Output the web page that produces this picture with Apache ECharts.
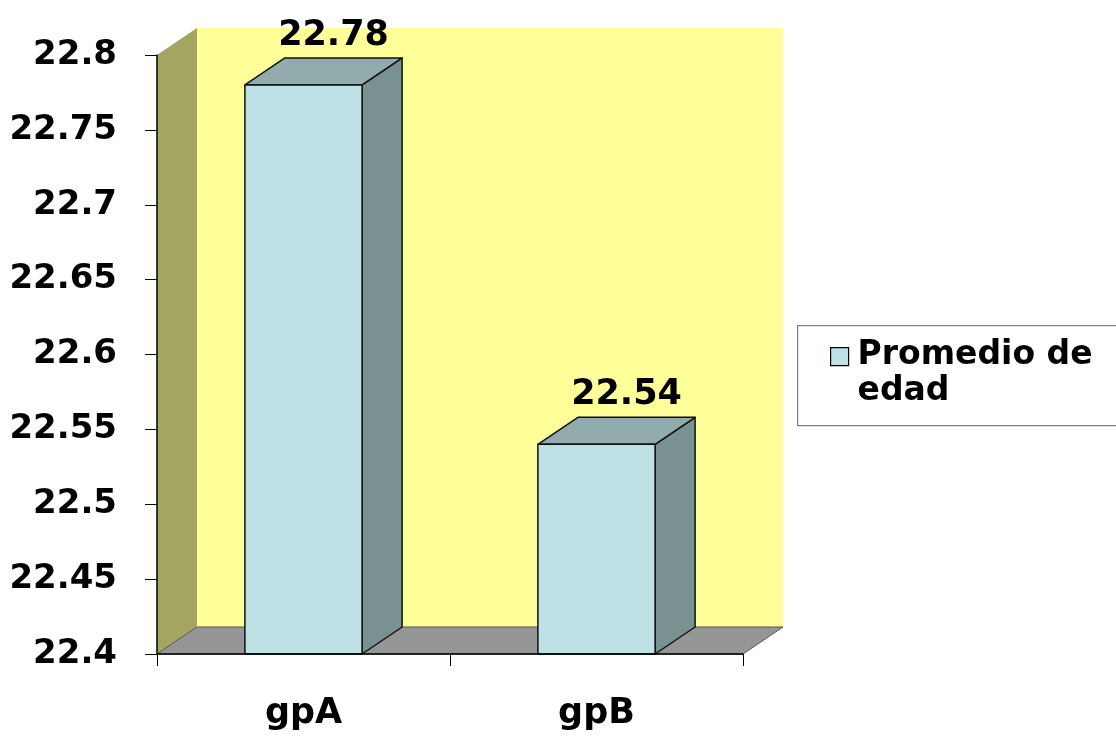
<!DOCTYPE html>
<html>
<head>
<meta charset="utf-8">
<script src="https://cdn.jsdelivr.net/npm/echarts@6/dist/echarts.min.js"></script>
<style>html,body{margin:0;padding:0;background:#fff;}#c{width:1116px;height:738px;}</style>
</head>
<body>
<div id="c"></div>
<script>
// ---- data ----
const categories = ['gpA', 'gpB'];
const values = [22.78, 22.54];
const seriesName = 'Promedio de edad';
const legendLines = ['Promedio de', 'edad'];
const yMin = 22.4, yMax = 22.8, yStep = 0.05;

// ---- style constants ----
const DX = 40, DY = -27;          // 3D depth offset
const FONT = 'DejaVu Sans';
const C_FRONT = '#BDE1E4', C_TOP = '#92ABAD', C_SIDE = '#7A9192';
const C_BACK = '#FFFF99', C_WALL = '#A5A562', C_FLOOR = '#969696';

const chart = echarts.init(document.getElementById('c'), null, {renderer: 'canvas'});

function wallsItem(params, api) {
  const bw = api.size([1, 0])[0];
  const p0 = api.coord([0, yMin]);
  const pN = api.coord([categories.length - 1, yMin]);
  const left = p0[0] - bw / 2, right = pN[0] + bw / 2;
  const yB = p0[1], yT = api.coord([0, yMax])[1];
  return {
    type: 'group',
    children: [
      {type: 'rect', shape: {x: left + DX, y: yT + DY, width: right - left, height: yB - yT},
       style: {fill: C_BACK}},
      {type: 'polygon', shape: {points: [[left, yB], [left, yT], [left + DX, yT + DY], [left + DX, yB + DY]]},
       style: {fill: C_WALL}},
      {type: 'polygon', shape: {points: [[left, yB], [right, yB], [right + DX, yB + DY], [left + DX, yB + DY]]},
       style: {fill: C_FLOOR, stroke: '#555', lineWidth: 1}}
    ]
  };
}

function barItem(params, api) {
  const xi = api.value(0), v = api.value(1);
  const top = api.coord([xi, v]);
  const base = api.coord([xi, yMin]);
  const bw = api.size([1, 0])[0] * 0.4;
  const x0 = top[0] - bw / 2, x1 = x0 + bw, yt = top[1], yb = base[1];
  const line = {stroke: '#111', lineWidth: 1.5, lineJoin: 'round'};
  return {
    type: 'group',
    children: [
      {type: 'polygon', shape: {points: [[x1, yt], [x1, yb], [x1 + DX, yb + DY], [x1 + DX, yt + DY]]},
       style: Object.assign({fill: C_SIDE}, line)},
      {type: 'polygon', shape: {points: [[x0, yt], [x1, yt], [x1 + DX, yt + DY], [x0 + DX, yt + DY]]},
       style: Object.assign({fill: C_TOP}, line)},
      {type: 'rect', shape: {x: x0, y: yt, width: bw, height: yb - yt},
       style: Object.assign({fill: C_FRONT}, line)},
      {type: 'text', x: top[0] + 30, y: yt + DY - 5,
       style: {text: String(v), fontFamily: FONT, fontWeight: 'bold', fontSize: 35, fill: '#000',
               align: 'center', verticalAlign: 'bottom'}}
    ]
  };
}

chart.setOption({
  animation: false,
  backgroundColor: '#fff',
  grid: {left: 157, right: 373, top: 55, bottom: 84, containLabel: false},
  xAxis: {
    type: 'category', data: categories, z: 10,
    axisLine: {lineStyle: {color: '#000', width: 1.5}},
    axisTick: {show: true, length: 12, lineStyle: {color: '#000'}},
    axisLabel: {fontFamily: FONT, fontWeight: 'bold', fontSize: 35, color: '#000', margin: 42}
  },
  yAxis: {
    type: 'value', min: yMin, max: yMax, interval: yStep, z: 10,
    axisLine: {show: true, lineStyle: {color: '#000', width: 1.5}},
    axisTick: {show: true, length: 12, lineStyle: {color: '#000'}},
    splitLine: {show: false},
    axisLabel: {fontFamily: FONT, fontWeight: 'bold', fontSize: 34, color: '#000', margin: 40,
                formatter: v => String(+v.toFixed(2))}
  },
  series: [
    {type: 'custom', name: 'walls', renderItem: wallsItem, data: [[0, yMin]], z: 1, silent: true},
    {type: 'custom', name: seriesName, renderItem: barItem, z: 3,
     data: values.map((v, i) => [i, v])}
  ],
  graphic: [{
    type: 'group', left: 797, top: 325,
    children: [
      {type: 'rect', shape: {x: 0, y: 0, width: 330, height: 100},
       style: {fill: '#fff', stroke: '#808080', lineWidth: 1.2}},
      {type: 'rect', shape: {x: 33, y: 22, width: 18, height: 18},
       style: {fill: C_FRONT, stroke: '#000', lineWidth: 1.2}},
      {type: 'text', x: 60, y: 12,
       style: {text: legendLines.join('\n'), fontFamily: FONT, fontWeight: 'bold', fontSize: 33,
               lineHeight: 36, fill: '#000', align: 'left', verticalAlign: 'top'}}
    ]
  }]
});
</script>
</body>
</html>
